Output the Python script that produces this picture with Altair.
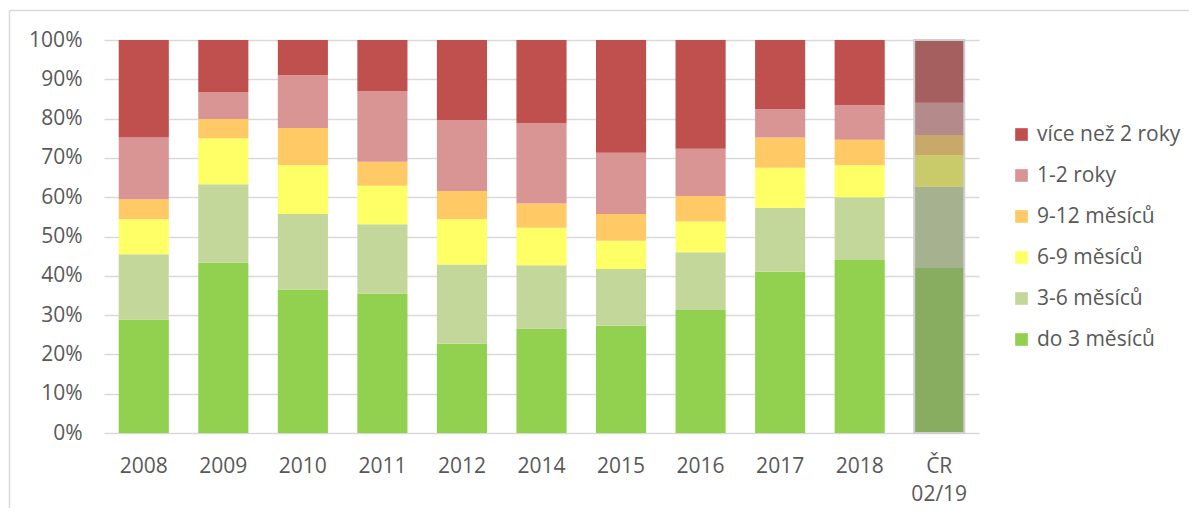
import altair as alt
import pandas as pd

categories = ["2008", "2009", "2010", "2011", "2012", "2014", "2015", "2016", "2017", "2018", "ČR 02/19"]
series = ["více než 2 roky", "1-2 roky", "9-12 měsíců", "6-9 měsíců", "3-6 měsíců", "do 3 měsíců"]

do3 = [28.9, 43.3, 36.5, 35.5, 22.7, 26.6, 27.3, 31.3, 41.0, 44.0, 42.0]
m3_6 = [16.6, 20.0, 19.2, 17.6, 20.2, 16.1, 14.4, 14.7, 16.3, 16.0, 20.7]
m6_9 = [8.9, 11.7, 12.4, 9.8, 11.5, 9.5, 7.2, 7.8, 10.2, 8.1, 8.0]
m9_12 = [5.1, 4.9, 9.5, 6.1, 7.2, 6.2, 6.8, 6.5, 7.7, 6.5, 5.1]
r1_2 = [15.7, 6.9, 13.4, 18.0, 18.0, 20.5, 15.6, 12.0, 7.2, 8.8, 8.3]
r2plus = [24.8, 13.2, 9.0, 13.0, 20.4, 21.1, 28.7, 27.7, 17.6, 16.6, 15.9]

tick_values = [0.0, 0.1, 0.2, 0.3, 0.4, 0.5, 0.6, 0.7, 0.8, 0.9, 1.0]

colors = ["#c0504d", "#d99594", "#ffc966", "#ffff66", "#c4d79b", "#92d050"]
cr_colors = ["#a45f5e", "#b48b8a", "#c9a96a", "#c9cb6b", "#a6b18f", "#88ad60"]

values_by_series = {
    "do 3 měsíců": do3,
    "3-6 měsíců": m3_6,
    "6-9 měsíců": m6_9,
    "9-12 měsíců": m9_12,
    "1-2 roky": r1_2,
    "více než 2 roky": r2plus,
}
stack_order = ["do 3 měsíců", "3-6 měsíců", "6-9 měsíců", "9-12 měsíců", "1-2 roky", "více než 2 roky"]

rows = []
for s_i, s in enumerate(stack_order):
    for c, v in zip(categories, values_by_series[s]):
        rows.append({"cat": c, "series": s, "value": v, "ord": s_i})
df = pd.DataFrame(rows)

FONT = "Open Sans"
GRAY = "#595959"
FS = 21

x_axis = alt.Axis(
    title=None, labelAngle=0, ticks=False, tickSize=0, domain=False,
    labelFont=FONT, labelFontSize=FS, labelColor=GRAY, labelPadding=22,
    labelExpr="split(datum.label, ' ')", labelLineHeight=28,
)
y_axis = alt.Axis(
    title=None, format=".0%", values=tick_values,
    ticks=False, tickSize=0, domain=False, grid=True, gridColor="#d9d9d9",
    gridWidth=1.3, labelFont=FONT, labelFontSize=FS, labelColor=GRAY,
    labelPadding=22, labelOverlap=False, labelFlush=False,
)
x_scale = alt.Scale(paddingInner=0.37, paddingOuter=0.185)
y_scale = alt.Scale(domain=[0, 1], nice=False)

bars = alt.Chart(df).mark_bar().encode(
    x=alt.X("cat:N", sort=categories, scale=x_scale, axis=x_axis),
    y=alt.Y("value:Q", stack="normalize", scale=y_scale, axis=y_axis),
    color=alt.Color(
        "series:N",
        scale=alt.Scale(domain=series, range=colors),
        legend=alt.Legend(
            title=None, orient="none", legendX=907, legendY=84,
            symbolType="square", symbolSize=160, symbolStrokeWidth=0,
            symbolOpacity=1, labelFont=FONT, labelFontSize=FS,
            labelColor=GRAY, rowPadding=19, labelOffset=5, padding=0,
            labelLimit=300,
        ),
    ),
    order=alt.Order("ord:Q"),
)

cr = alt.Chart(df).transform_filter(alt.datum.cat == "ČR 02/19").mark_bar().encode(
    x=alt.X("cat:N", sort=categories, scale=x_scale, axis=x_axis),
    y=alt.Y("value:Q", stack="normalize", scale=y_scale, axis=y_axis),
    fill=alt.Fill("series:N", scale=alt.Scale(domain=series, range=cr_colors), legend=None),
    order=alt.Order("ord:Q"),
)

cr_cat = pd.DataFrame({"cat": [categories[-1]]})
cr_border = alt.Chart(cr_cat).mark_bar(
    filled=False, stroke="#cfcfcf", strokeWidth=2
).encode(
    x=alt.X("cat:N", sort=categories, scale=x_scale, axis=x_axis),
    y=alt.Y(datum=0, scale=y_scale, axis=y_axis),
    y2=alt.Y2(datum=1),
)

frame_df = pd.DataFrame({"k": [0]})
frame_left = alt.Chart(frame_df).mark_rule(color="#d9d9d9", strokeWidth=1.5).encode(
    x=alt.value(-94.5), y=alt.value(-29.5), y2=alt.value(520)
)
frame_top = alt.Chart(frame_df).mark_rule(color="#d9d9d9", strokeWidth=1.5).encode(
    x=alt.value(-94.5), x2=alt.value(1200), y=alt.value(-29.5)
)

chart = alt.layer(bars, cr, cr_border, frame_left, frame_top).properties(
    width=875,
    height=393,
    autosize=alt.AutoSizeParams(type="none"),
    padding={"left": 96, "top": 32, "right": 210, "bottom": 75},
).configure_view(strokeWidth=0)

chart.save("out.html", embed_options={"renderer": "svg", "actions": False})
